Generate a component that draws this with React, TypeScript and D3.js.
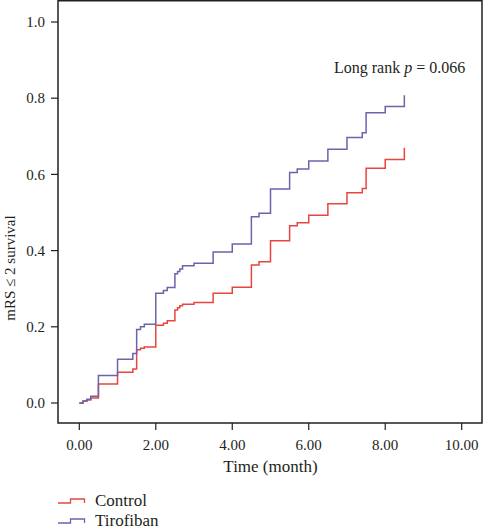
import React from "react";
import * as d3 from "d3";

const times = [0, 0.1, 0.2, 0.3, 0.5, 1.0, 1.4, 1.5, 1.6, 1.7, 2.0, 2.2, 2.3, 2.5, 2.57, 2.63, 2.7, 3.0, 3.5, 4.0, 4.5, 4.7, 5.0, 5.5, 5.7, 6.0, 6.5, 7.0, 7.4, 7.5, 8.0, 8.5];
const controlValues = [0, 0.005, 0.008, 0.013, 0.05, 0.081, 0.089, 0.14, 0.144, 0.147, 0.204, 0.209, 0.216, 0.244, 0.25, 0.255, 0.259, 0.264, 0.288, 0.304, 0.362, 0.371, 0.426, 0.465, 0.473, 0.493, 0.523, 0.552, 0.563, 0.616, 0.639, 0.67];
const tirofibanValues = [0, 0.005, 0.01, 0.018, 0.072, 0.115, 0.13, 0.193, 0.2, 0.207, 0.288, 0.295, 0.303, 0.339, 0.345, 0.352, 0.36, 0.367, 0.396, 0.417, 0.489, 0.498, 0.562, 0.605, 0.614, 0.635, 0.666, 0.697, 0.709, 0.762, 0.778, 0.808];
const xTicks = [0, 2, 4, 6, 8, 10];
const yTicks = [0, 0.2, 0.4, 0.6, 0.8, 1.0];
const seriesNames = ["Control", "Tirofiban"];
const seriesColors = ["#e8453e", "#6a64ab"];

export default function App() {
  const W = 483, H = 528;
  const frame = { left: 58, top: 0.75, right: 482, bottom: 423 };
  const x = d3.scaleLinear().domain([0, 10]).range([79.3, 461.7]);
  const y = d3.scaleLinear().domain([0, 1]).range([403, 22]);
  const line = d3
    .line<[number, number]>()
    .x((d) => x(d[0]))
    .y((d) => y(d[1]))
    .curve(d3.curveStepAfter);
  const series = [controlValues, tirofibanValues].map((vals) =>
    times.map((t, i) => [t, vals[i]] as [number, number])
  );
  const font = "'Liberation Serif', 'Times New Roman', serif";
  const ink = "#231f20";

  return (
    <svg
      width={W}
      height={H}
      style={{ position: "absolute", left: 0, top: 0, background: "#fff" }}
      fontFamily={font}
    >
      <rect
        x={frame.left}
        y={frame.top}
        width={frame.right - frame.left}
        height={frame.bottom - frame.top}
        fill="none"
        stroke={ink}
        strokeWidth={1.5}
      />
      {yTicks.map((v) => (
        <g key={"y" + v}>
          <line x1={51} x2={frame.left} y1={y(v)} y2={y(v)} stroke={ink} strokeWidth={1.2} />
          <text x={45} y={y(v)} dy="0.35em" textAnchor="end" fontSize={15} fill={ink}>
            {d3.format(".1f")(v)}
          </text>
        </g>
      ))}
      {xTicks.map((t) => (
        <g key={"x" + t}>
          <line x1={x(t)} x2={x(t)} y1={frame.bottom} y2={430} stroke={ink} strokeWidth={1.2} />
          <text x={x(t)} y={450} textAnchor="middle" fontSize={15} fill={ink}>
            {d3.format(".2f")(t)}
          </text>
        </g>
      ))}
      <text x={270.5} y={472} textAnchor="middle" fontSize={17} fill={ink}>
        Time (month)
      </text>
      <text
        transform="translate(15,268) rotate(-90)"
        textAnchor="middle"
        fontSize={15}
        fill={ink}
      >
        mRS ≤ 2 survival
      </text>
      <text x={334} y={73} fontSize={16} fill={ink}>
        Long rank <tspan fontStyle="italic">p</tspan> = 0.066
      </text>
      {series.map((pts, i) => (
        <path
          key={seriesNames[i]}
          d={line(pts) || ""}
          fill="none"
          stroke={seriesColors[i]}
          strokeWidth={1.5}
        />
      ))}
      {seriesNames.map((name, i) => {
        const by = 503 + i * 20;
        return (
          <g key={"leg" + name}>
            <path
              d={`M58,${by}H70.5V${by - 4}H84.5V${by}`}
              fill="none"
              stroke={seriesColors[i]}
              strokeWidth={1.3}
            />
            <text x={95} y={by + 2.5} fontSize={17} fill={ink}>
              {name}
            </text>
          </g>
        );
      })}
    </svg>
  );
}
